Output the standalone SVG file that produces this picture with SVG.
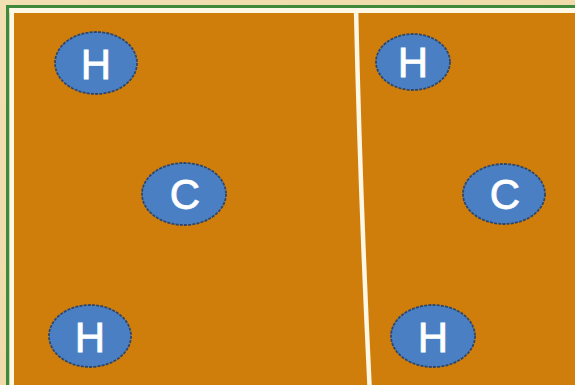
<svg xmlns="http://www.w3.org/2000/svg" width="575" height="385" viewBox="0 0 575 385">
<style>
.atom ellipse{fill:#4a80c3;stroke:#2b4770;stroke-width:1.8;stroke-dasharray:3 1.2}
.atom text{fill:#ffffff;stroke:#ffffff;stroke-width:0.8;font-family:"Liberation Sans",Arial,sans-serif;font-size:42px;text-anchor:middle}
</style>
<defs>
<linearGradient id="bg" x1="0" y1="0" x2="1" y2="1">
<stop offset="0" stop-color="#f2dfb2"/>
<stop offset="1" stop-color="#eed6a2"/>
</linearGradient>
</defs>
<rect width="575" height="385" fill="url(#bg)"/>
<rect x="6" y="5" width="569" height="3" fill="#3f8a3a"/>
<rect x="6" y="5" width="3.5" height="380" fill="#3f8a3a"/>
<rect x="9.5" y="8" width="566" height="5" fill="#fdf7e6"/>
<rect x="9.5" y="8" width="4.5" height="377" fill="#fdf7e6"/>
<rect x="14" y="13" width="561" height="372" fill="#d07e0b"/>
<g id="connectors">
<path d="M356,8 Q360,190 369.5,385" fill="none" stroke="#fdf7e6" stroke-width="4.5"/>
</g>
<g id="H1" class="atom"><ellipse cx="96" cy="63" rx="41" ry="31"/><text x="96" y="79">H</text></g>
<g id="H2" class="atom"><ellipse cx="413" cy="62" rx="37" ry="28"/><text x="413" y="77">H</text></g>
<g id="C1" class="atom"><ellipse cx="184" cy="194" rx="42" ry="31"/><text x="185" y="209">C</text></g>
<g id="C2" class="atom"><ellipse cx="504" cy="194" rx="41" ry="30"/><text x="505" y="209">C</text></g>
<g id="H3" class="atom"><ellipse cx="90" cy="336" rx="41" ry="31"/><text x="90" y="352">H</text></g>
<g id="H4" class="atom"><ellipse cx="433" cy="336" rx="42" ry="31"/><text x="433" y="352">H</text></g>
</svg>
